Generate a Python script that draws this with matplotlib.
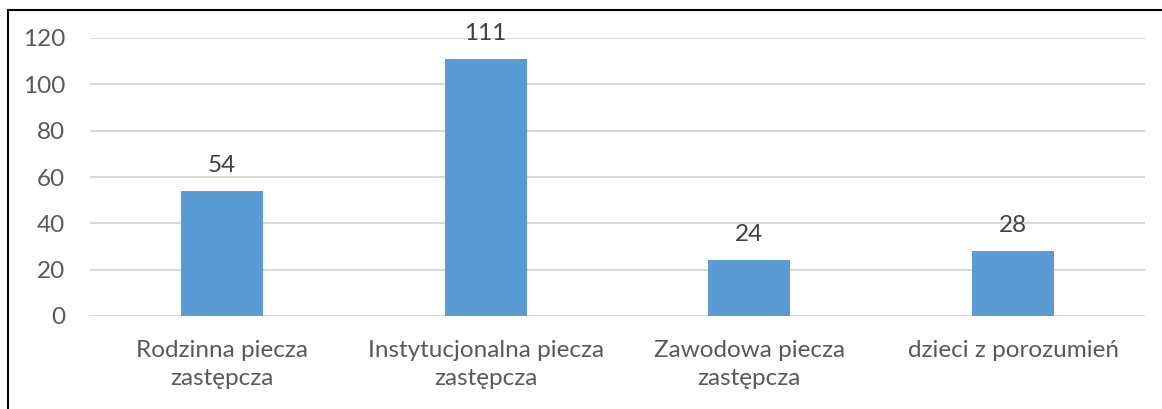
import matplotlib
matplotlib.use("Agg")
import matplotlib.pyplot as plt
from matplotlib.lines import Line2D

categories = ["Rodzinna piecza\nzastępcza", "Instytucjonalna piecza\nzastępcza",
              "Zawodowa piecza\nzastępcza", "dzieci z porozumień"]
values = [54, 111, 24, 28]
yticks = [0, 20, 40, 60, 80, 100, 120]

plt.rcParams['font.family'] = ['Lato', 'DejaVu Sans']

W, H = 1162, 409
fig = plt.figure(figsize=(W / 100, H / 100), dpi=100)
ax = fig.add_axes([90 / W, 93 / H, (1145 - 90) / W, (316 - 38) / H])

FS = 17.5
x = list(range(len(categories)))
bars = ax.bar(x, values, width=0.31, color="#5B9BD5", zorder=3)
ax.set_xlim(-0.5, len(categories) - 0.5)
ax.set_ylim(0, 120)
ax.set_yticks(yticks)
ax.set_yticklabels([str(t) for t in yticks], fontsize=FS, color="#595959")
ax.set_xticks(x)
ax.set_xticklabels(categories, fontsize=FS, color="#595959", linespacing=1.45)
ax.tick_params(axis='both', length=0)
ax.tick_params(axis='y', pad=18)
ax.tick_params(axis='x', pad=17)
ax.grid(axis='y', color="#D9D9D9", linewidth=1.5, zorder=0)
for s in ax.spines.values():
    s.set_visible(False)

for b, v in zip(bars, values):
    ax.annotate(str(v), (b.get_x() + b.get_width() / 2, v), xytext=(0, 11),
                textcoords="offset points", ha="center", va="bottom",
                fontsize=FS, color="#404040")

# document frame
fig.add_artist(Line2D([7.5 / W, 7.5 / W], [0, 1 - 9.5 / H], color="black", linewidth=1.5))
fig.add_artist(Line2D([7.5 / W, 1], [1 - 9.5 / H, 1 - 9.5 / H], color="black", linewidth=1.5))

fig.savefig("out.png", dpi=100)
